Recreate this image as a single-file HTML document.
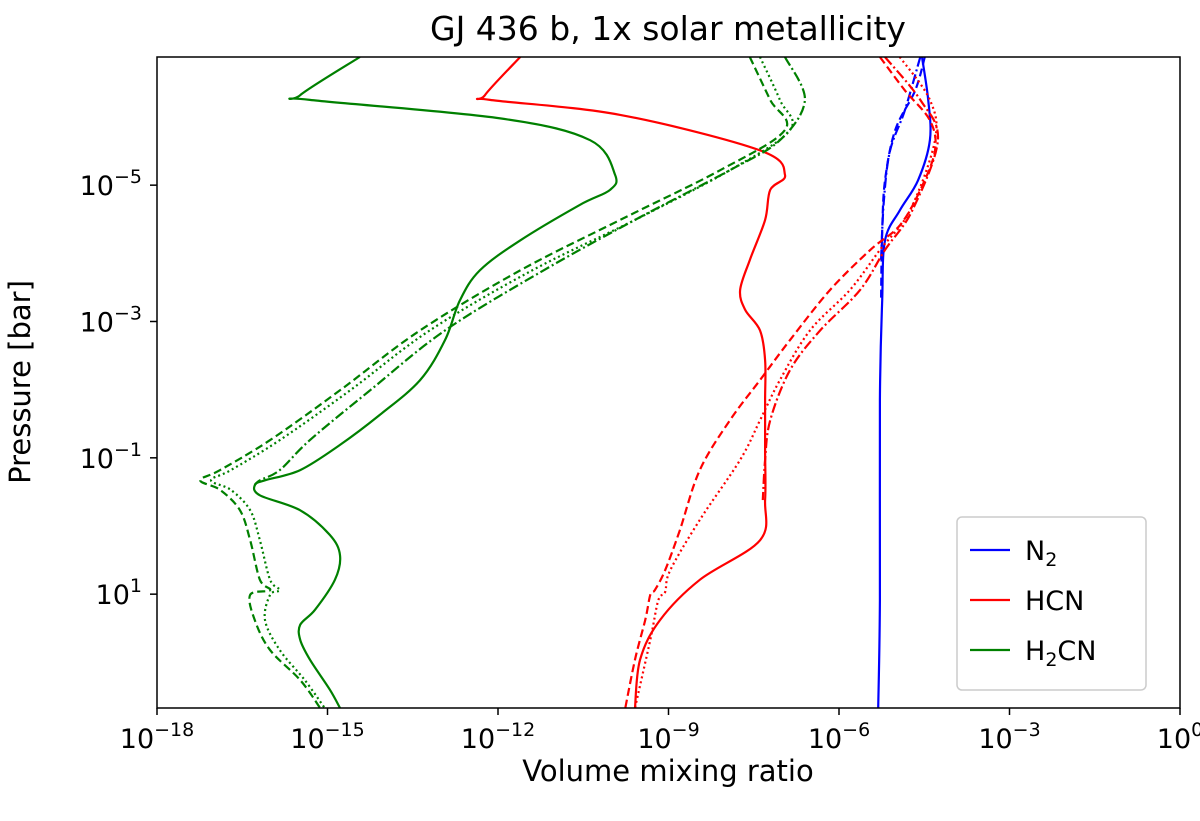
<!DOCTYPE html>
<html><head><meta charset="utf-8"><style>
body{margin:0;background:#fff;}
svg{display:block;font-family:"DejaVu Sans","Liberation Sans",sans-serif;}
</style></head><body>
<svg id="chart" width="1200" height="821" viewBox="0 0 1200 821">
<defs><clipPath id="clip"><rect x="157" y="57" width="1023" height="651"/></clipPath></defs>
<text x="668" y="40" text-anchor="middle" font-size="33">GJ 436 b, 1x solar metallicity</text>
<g id="lines" clip-path="url(#clip)"></g>
<rect x="157" y="57" width="1023" height="651" fill="none" stroke="#000" stroke-width="1.5"/>
<g id="ticks"></g>
<text x="668" y="781" text-anchor="middle" font-size="29">Volume mixing ratio</text>
<text transform="translate(30,382) rotate(-90)" text-anchor="middle" font-size="29">Pressure [bar]</text>
<g>
<rect x="957" y="517" width="189" height="173" rx="5" fill="#fff" stroke="#ccc" stroke-width="1.5"/>
<line x1="970" y1="550" x2="1010" y2="550" stroke="#0000ff" stroke-width="2.2"/>
<text x="1025" y="560" font-size="27">N<tspan font-size="19" dy="6">2</tspan></text>
<line x1="970" y1="600" x2="1010" y2="600" stroke="#ff0000" stroke-width="2.2"/>
<text x="1025" y="610" font-size="27">HCN</text>
<line x1="970" y1="650" x2="1010" y2="650" stroke="#008000" stroke-width="2.2"/>
<text x="1025" y="660" font-size="27">H<tspan font-size="19" dy="6">2</tspan><tspan dy="-6">CN</tspan></text>
</g>
</svg>
<script>
const xTickExp=[-18,-15,-12,-9,-6,-3,0];
const yTickExp=[-5,-3,-1,1];
// log10 pressure / log10 VMR per series
const h2cnSolidP=[-6.88,-6.32,-6.25,-5.98,-5.66,-5.15,-4.93,-4.71,-4.19,-3.75,-3.31,-2.73,-2.14,-1.63,-1.19,-0.82,-0.67,-0.60,-0.45,-0.23,0.13,0.43,0.79,1.23,1.45,1.67,1.96,2.40,2.67];
const h2cnSolidX=[-14.43,-15.48,-15.31,-11.96,-10.38,-9.94,-10.03,-10.56,-11.61,-12.32,-12.67,-12.93,-13.37,-14.08,-14.78,-15.48,-16.10,-16.28,-16.19,-15.48,-14.96,-14.78,-14.87,-15.22,-15.48,-15.48,-15.31,-14.96,-14.78];
const h2cnDashP=[-6.88,-6.25,-5.81,-5.22,-4.49,-3.75,-2.87,-1.99,-1.26,-0.82,-0.67,-0.53,-0.23,0.21,0.79,0.94,1.01,1.38,1.82,2.26,2.67];
const h2cnDashX=[-7.57,-7.21,-6.95,-8.09,-9.85,-11.61,-13.37,-14.78,-16.01,-16.89,-17.24,-16.89,-16.54,-16.36,-16.19,-16.01,-16.36,-16.28,-16.01,-15.48,-15.13];
const h2cnDotP=[-6.88,-6.25,-5.81,-5.22,-4.49,-3.75,-2.87,-1.99,-1.26,-0.82,-0.67,-0.53,-0.23,0.21,0.79,0.94,1.01,1.38,1.82,2.26,2.67];
const h2cnDotX=[-7.39,-7.04,-6.86,-7.92,-9.59,-11.40,-13.20,-14.60,-15.84,-16.70,-17.05,-16.70,-16.36,-16.19,-16.01,-15.84,-16.01,-16.10,-15.84,-15.40,-15.05];
const h2cnDashDotP=[-6.88,-6.25,-5.66,-5.22,-4.49,-3.75,-2.87,-1.99,-1.26,-0.82,-0.67,-0.60];
const h2cnDashDotX=[-6.95,-6.60,-7.04,-7.92,-9.59,-11.20,-12.93,-14.25,-15.31,-15.84,-16.19,-16.28];
const hcnSolidP=[-6.88,-6.32,-6.25,-6.03,-5.51,-5.15,-4.93,-4.49,-3.90,-3.46,-3.17,-2.87,-2.43,-1.85,-1.11,-0.38,0.21,0.79,1.38,1.96,2.67];
const hcnSolidX=[-11.61,-12.23,-12.14,-9.85,-7.39,-6.95,-7.21,-7.30,-7.57,-7.74,-7.65,-7.39,-7.30,-7.30,-7.30,-7.30,-7.39,-8.45,-9.15,-9.50,-9.59];
const hcnDashP=[-6.88,-6.39,-5.95,-5.51,-4.93,-4.41,-4.05,-3.46,-2.73,-2.14,-1.55,-0.82,0.06,0.65,0.94,1.01,1.38,1.96,2.67];
const hcnDashX=[-5.28,-4.84,-4.40,-4.31,-4.57,-4.93,-5.45,-6.16,-6.86,-7.39,-7.92,-8.45,-8.80,-9.06,-9.24,-9.32,-9.41,-9.59,-9.76];
const hcnDotP=[-6.88,-6.25,-5.66,-4.63,-4.05,-3.46,-2.87,-2.14,-1.55,-0.97,-0.09,0.65,0.97,1.09,1.67,2.67];
const hcnDotX=[-4.93,-4.40,-4.31,-4.75,-5.28,-5.81,-6.51,-7.04,-7.39,-7.74,-8.45,-8.97,-9.06,-9.18,-9.32,-9.59];
const hcnDashDotP=[-6.88,-6.25,-5.66,-4.63,-4.05,-3.46,-2.87,-2.29,-1.55,-0.97,-0.38];
const hcnDashDotX=[-5.19,-4.57,-4.26,-4.71,-5.19,-5.63,-6.33,-6.86,-7.21,-7.30,-7.34];
const n2SolidP=[-6.88,-6.25,-5.66,-5.07,-4.63,-4.19,-3.31,-1.85,1.09,2.67];
const n2SolidX=[-4.54,-4.43,-4.40,-4.61,-4.93,-5.19,-5.24,-5.28,-5.28,-5.31];
const n2DashP=[-6.88,-6.39,-5.81,-5.07,-4.34,-3.31];
const n2DashX=[-4.49,-4.66,-5.01,-5.19,-5.24,-5.26];
const n2DashDotP=[-6.88,-6.10,-5.51,-4.78,-3.90];
const n2DashDotX=[-4.57,-4.84,-5.10,-5.21,-5.26];

const NS="http://www.w3.org/2000/svg";
const X0=157,X1=1180,XMIN=-18,XMAX=0;
const YTOP=57,YBOT=708,PMIN=-6.88,PMAX=2.67;
function xs(v){return X0+(v-XMIN)/(XMAX-XMIN)*(X1-X0);}
function ys(p){return YTOP+(p-PMIN)/(PMAX-PMIN)*(YBOT-YTOP);}
function smooth(pts){
 let d="M"+pts[0][0].toFixed(1)+","+pts[0][1].toFixed(1);
 for(let i=0;i<pts.length-1;i++){
  const p0=pts[Math.max(0,i-1)],p1=pts[i],p2=pts[i+1],p3=pts[Math.min(pts.length-1,i+2)];
  const c1x=p1[0]+(p2[0]-p0[0])/6,c1y=p1[1]+(p2[1]-p0[1])/6;
  const c2x=p2[0]-(p3[0]-p1[0])/6,c2y=p2[1]-(p3[1]-p1[1])/6;
  d+="C"+c1x.toFixed(1)+","+c1y.toFixed(1)+" "+c2x.toFixed(1)+","+c2y.toFixed(1)+" "+p2[0].toFixed(1)+","+p2[1].toFixed(1);
 }
 return d;
}
const series=[
 [n2SolidP,n2SolidX,"#0000ff","","n2-solid"],
 [n2DashP,n2DashX,"#0000ff","8,4","n2-dashed"],
 [n2DashDotP,n2DashDotX,"#0000ff","10,3,2,3","n2-dashdot"],
 [hcnDashP,hcnDashX,"#ff0000","8,4","hcn-dashed"],
 [hcnDotP,hcnDotX,"#ff0000","2,3","hcn-dotted"],
 [hcnDashDotP,hcnDashDotX,"#ff0000","10,3,2,3","hcn-dashdot"],
 [hcnSolidP,hcnSolidX,"#ff0000","","hcn-solid"],
 [h2cnDashP,h2cnDashX,"#008000","8,4","h2cn-dashed"],
 [h2cnDotP,h2cnDotX,"#008000","2,3","h2cn-dotted"],
 [h2cnDashDotP,h2cnDashDotX,"#008000","10,3,2,3","h2cn-dashdot"],
 [h2cnSolidP,h2cnSolidX,"#008000","","h2cn-solid"]
];
const g=document.getElementById("lines");
series.forEach(s=>{
 const el=document.createElementNS(NS,"path");
 const pts=s[0].map((p,i)=>[xs(s[1][i]),ys(p)]);
 el.setAttribute("d",smooth(pts));el.setAttribute("fill","none");el.setAttribute("stroke",s[2]);
 el.setAttribute("stroke-width","2.2");el.setAttribute("stroke-linejoin","round");
 if(s[3])el.setAttribute("stroke-dasharray",s[3]);
 
 
 g.appendChild(el);
});
const t=document.getElementById("ticks");
function sup(parent,x,y,anchor,e){
 const tx=document.createElementNS(NS,"text");
 tx.setAttribute("x",x);tx.setAttribute("y",y);tx.setAttribute("font-size","27");tx.setAttribute("text-anchor",anchor);
 tx.innerHTML='10<tspan font-size="19" dy="-12">'+(e<0?'\u2212'+(-e):e)+'</tspan>';
 
 
 parent.appendChild(tx);
}
xTickExp.forEach(e=>{
 const x=xs(e);
 const l=document.createElementNS(NS,"line");
 l.setAttribute("x1",x);l.setAttribute("x2",x);l.setAttribute("y1",708);l.setAttribute("y2",715);
 l.setAttribute("stroke","#000");l.setAttribute("stroke-width","1.5");
 
 
 t.appendChild(l);
 sup(t,x,748,"middle",e);
});
yTickExp.forEach(e=>{
 const y=ys(e);
 const l=document.createElementNS(NS,"line");
 l.setAttribute("x1",150);l.setAttribute("x2",157);l.setAttribute("y1",y);l.setAttribute("y2",y);
 l.setAttribute("stroke","#000");l.setAttribute("stroke-width","1.5");
 
 
 t.appendChild(l);
 sup(t,142,y+10,"end",e);
});
</script>
</body></html>
